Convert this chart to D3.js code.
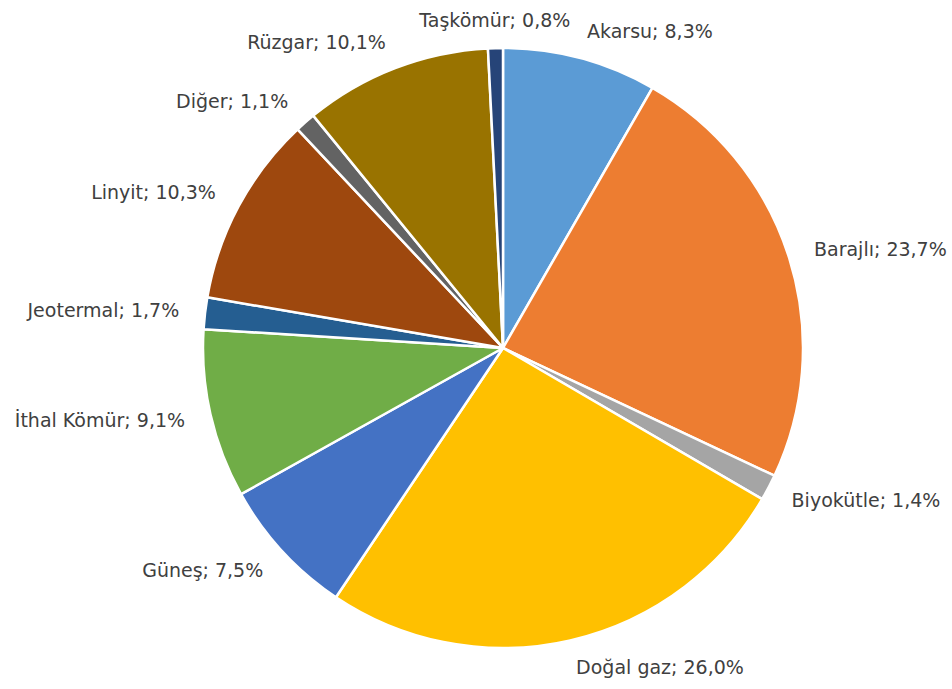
<!DOCTYPE html>
<html>
<head>
<meta charset="utf-8">
<script src="https://cdn.jsdelivr.net/npm/d3@7"></script>
<style>
  body { margin: 0; background: #fff; }
  text { font-family: "DejaVu Sans", sans-serif; }
</style>
</head>
<body>
<div id="chart"></div>
<script>
// chart data
var categories = ["Akarsu", "Barajlı", "Biyokütle", "Doğal gaz", "Güneş", "İthal Kömür",
                  "Jeotermal", "Linyit", "Diğer", "Rüzgar", "Taşkömür"];
var shares = [8.3, 23.7, 1.4, 26.0, 7.5, 9.1, 1.7, 10.3, 1.1, 10.1, 0.8];
var colors = ["#5B9BD5", "#ED7D31", "#A5A5A5", "#FFC000", "#4472C4", "#70AD47",
              "#255E91", "#9E480E", "#636363", "#997300", "#264478"];

var total_width = 952, total_height = 689;
var cx = 503, cy = 348, radius = 300;

var svg = d3.select("#chart").append("svg")
    .attr("width", total_width)
    .attr("height", total_height);

var g = svg.append("g")
    .attr("transform", "translate(" + cx + "," + cy + ")");

var data = categories.map(function(c, i) { return {name: c, value: shares[i], color: colors[i]}; });

var pie = d3.pie()
    .value(function(d) { return d.value; })
    .sort(null);

var arc = d3.arc()
    .innerRadius(0)
    .outerRadius(radius);

var arcs = pie(data);

// slices
g.selectAll("path.slice")
  .data(arcs)
  .enter()
  .append("path")
    .attr("class", "slice")
    .attr("d", arc)
    .attr("fill", function(d) { return d.data.color; })
    .attr("stroke", "#fff")
    .attr("stroke-width", 2.5)
    .attr("stroke-linejoin", "round");

// labels, outside end
var fmt = function(v) { return v.toFixed(1).replace(".", ","); };
var labelRx = radius + 26, labelRy = radius + 16;

g.selectAll("text.label")
  .data(arcs)
  .enter()
  .append("text")
    .attr("class", "label")
    .each(function(d) {
      var a = (d.startAngle + d.endAngle) / 2;
      var s = Math.sin(a), c = Math.cos(a);
      var anchor = s > 0.1 ? "start" : (s < -0.1 ? "end" : "middle");
      d3.select(this)
        .attr("x", s * labelRx)
        .attr("y", -c * labelRy - c * 12)
        .attr("dy", "0.35em")
        .attr("text-anchor", anchor);
    })
    .attr("font-size", 19)
    .attr("fill", "#404040")
    .text(function(d) { return d.data.name + "; " + fmt(d.data.value) + "%"; });
</script>
</body>
</html>
